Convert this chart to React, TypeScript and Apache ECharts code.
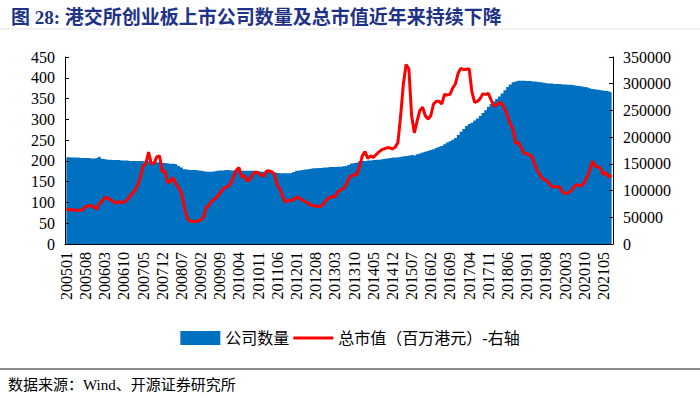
import React, { useEffect, useRef } from "react";
import * as echarts from "echarts";

const months: string[] = [];
for (let y = 2005; y <= 2021; y++) {
  for (let m = 1; m <= 12; m++) {
    if (y === 2021 && m > 8) break;
    months.push(`${y}${String(m).padStart(2, "0")}`);
  }
}

const companyCount: number[] = [
  209, 209, 208, 208, 208, 207, 207, 207, 207, 206, 206, 207, 210,
  205, 204, 203, 203, 202, 202, 202, 201,
  201, 201, 200, 200, 200, 200, 200, 199, 199,
  199, 198, 198, 197, 196, 195, 195,
  194, 193, 193, 192, 188, 184, 180,
  179, 178, 178, 178, 177, 176, 175,
  174, 174, 174, 175, 176,
  177, 177, 178, 178, 177, 177, 177, 177, 176, 176, 176, 176, 176, 175, 175, 174,
  174, 174, 173, 173, 172, 171,
  170, 170, 170, 170, 171, 173,
  176, 177, 178, 179, 180, 181, 182, 182,
  183, 183, 184, 184, 185, 185, 185, 186, 186, 187,
  188, 190,
  194, 195, 196,
  199, 200, 200, 201, 201,
  202, 203, 203, 204, 205, 206, 207, 208, 208, 209, 210, 211, 212, 213, 214,
  213,
  216, 218, 220, 222, 224, 226, 228, 231, 234,
  236, 240, 244, 247, 251,
  255, 262,
  270, 277, 284, 289, 292,
  297, 302, 308, 315,
  322, 330, 337, 343, 349, 355, 362, 370,
  378, 384, 389, 391,
  393, 393, 393, 392, 392, 391, 391, 390,
  389, 388, 387, 386, 386, 385, 385, 385,
  384, 384, 383, 383, 382, 381, 380, 379, 378, 377,
  375, 373, 372, 371, 370, 369, 368, 367, 365,
];

const marketValue: number[] = [
  65000, 64000, 64000, 63000, 63000, 63000, 64000, 70000, 72000, 71000,
  70000, 65000, 75000, 80000, 87000, 86000, 83000, 80000, 76000, 79000,
  78000, 78000, 82000, 88000, 95000, 100000, 110000, 125000, 146000, 150000,
  172000, 150000, 151000, 163000, 165000, 135000, 137000, 115000, 117000, 124000,
  112000, 106000, 95000, 70000, 50000, 43000, 42000, 42000, 43000, 45000,
  50000, 68000, 72000, 80000, 84000, 88000, 95000, 102000, 106000, 108000,
  114000, 125000, 138000, 143000, 125000, 128000, 118000, 121000, 130000, 135000,
  133000, 129000, 127000, 136000, 137000, 135000, 130000, 110000, 102000, 88000,
  78000, 82000, 82000, 83000, 88000, 86000, 82000, 80000, 77000, 73000,
  72000, 71000, 70000, 71000, 76000, 83000, 87000, 89000, 88000, 97000,
  101000, 103000, 110000, 122000, 128000, 129000, 130000, 145000, 165000, 173000,
  160000, 165000, 162000, 167000, 172000, 176000, 178000, 180000, 180000, 178000,
  181000, 190000, 240000, 300000, 336000, 328000, 240000, 208000, 230000, 250000,
  256000, 240000, 234000, 240000, 262000, 267000, 267000, 262000, 280000, 279000,
  280000, 292000, 300000, 320000, 329000, 326000, 327000, 328000, 285000, 265000,
  267000, 272000, 281000, 280000, 282000, 270000, 258000, 260000, 265000, 262000,
  253000, 240000, 225000, 215000, 188000, 190000, 180000, 170000, 169000, 167000,
  163000, 148000, 137000, 128000, 121000, 120000, 115000, 108000, 107000, 107000,
  107000, 97000, 95000, 95000, 99000, 105000, 111000, 110000, 109000, 115000,
  125000, 138000, 155000, 146000, 144000, 142000, 130000, 134000, 125000, 129000,
];

const leftTicks = { min: 0, max: 450, interval: 50 };
const rightTicks = { min: 0, max: 350000, interval: 50000 };

const serif = '"Liberation Serif", "Times New Roman", "Noto Sans CJK SC", serif';
const cjk = '"Liberation Serif", "Noto Sans CJK SC", sans-serif';

export default function App() {
  const ref = useRef<HTMLDivElement>(null);
  useEffect(() => {
    if (!ref.current) return;
    const chart = echarts.init(ref.current, undefined, { renderer: "svg" });
    chart.setOption({
      animation: false,
      backgroundColor: "#fff",
      title: {
        text: "图 28: 港交所创业板上市公司数量及总市值近年来持续下降",
        left: 6,
        top: 3,
        textStyle: { fontSize: 19, fontWeight: "bold", color: "#1E3287", fontFamily: cjk },
      },
      legend: {
        top: 330,
        left: "center",
        padding: 0,
        itemWidth: 40,
        itemHeight: 14,
        itemGap: 4,
        textStyle: { fontSize: 16, color: "#000", fontFamily: cjk },
        data: [
          { name: "公司数量", icon: "rect" },
          { name: "总市值（百万港元）-右轴", icon: "path://M0,0L40,0L40,3L0,3Z" },
        ],
      },
      graphic: [
        { type: "line", shape: { x1: 0, y1: 29, x2: 700, y2: 29 }, style: { stroke: "#e4e4e4", lineWidth: 1 } },
        { type: "line", shape: { x1: 0, y1: 369, x2: 700, y2: 369 }, style: { stroke: "#666", lineWidth: 1.5 } },
        {
          type: "text",
          left: 8,
          top: 377,
          style: { text: "数据来源：Wind、开源证券研究所", font: `15px ${cjk}`, fill: "#000" },
        },
      ],
      grid: { left: 65, right: 87, top: 57, bottom: 153, containLabel: false },
      xAxis: {
        type: "category",
        data: months,
        boundaryGap: true,
        z: 5,
        axisLine: { lineStyle: { color: "#000", width: 1 } },
        axisTick: { inside: true, interval: 0, length: 4, lineStyle: { color: "#000" } },
        axisLabel: { interval: 6, rotate: 90, fontSize: 16, fontFamily: serif, color: "#000", margin: 8 },
      },
      yAxis: [
        {
          type: "value",
          ...leftTicks,
          z: 5,
          axisLine: { show: true, lineStyle: { color: "#000" } },
          axisTick: { show: true, inside: true, length: 4, lineStyle: { color: "#000" } },
          splitLine: { show: false },
          axisLabel: { fontSize: 16, fontFamily: serif, color: "#000", margin: 10 },
        },
        {
          type: "value",
          position: "right",
          ...rightTicks,
          z: 5,
          axisLine: { show: true, lineStyle: { color: "#000" } },
          axisTick: { show: true, inside: true, length: 4, lineStyle: { color: "#000" } },
          splitLine: { show: false },
          axisLabel: {
            fontSize: 16,
            fontFamily: serif,
            color: "#000",
            margin: 10,
            formatter: (v: number) => String(v),
          },
        },
      ],
      series: [
        {
          name: "公司数量",
          type: "line",
          step: "middle",
          data: companyCount,
          symbol: "none",
          showSymbol: false,
          lineStyle: { width: 0, color: "#0070C0" },
          itemStyle: { color: "#0070C0" },
          areaStyle: { color: "#0070C0", opacity: 1 },
        },
        {
          name: "总市值（百万港元）-右轴",
          type: "line",
          yAxisIndex: 1,
          data: marketValue,
          symbol: "none",
          showSymbol: false,
          lineStyle: { color: "#FF0000", width: 3 },
          itemStyle: { color: "#FF0000" },
        },
      ],
    });
    return () => chart.dispose();
  }, []);
  return (
    <div
      ref={ref}
      style={{ position: "fixed", left: 0, top: 0, width: 700, height: 397, background: "#fff" }}
    />
  );
}
